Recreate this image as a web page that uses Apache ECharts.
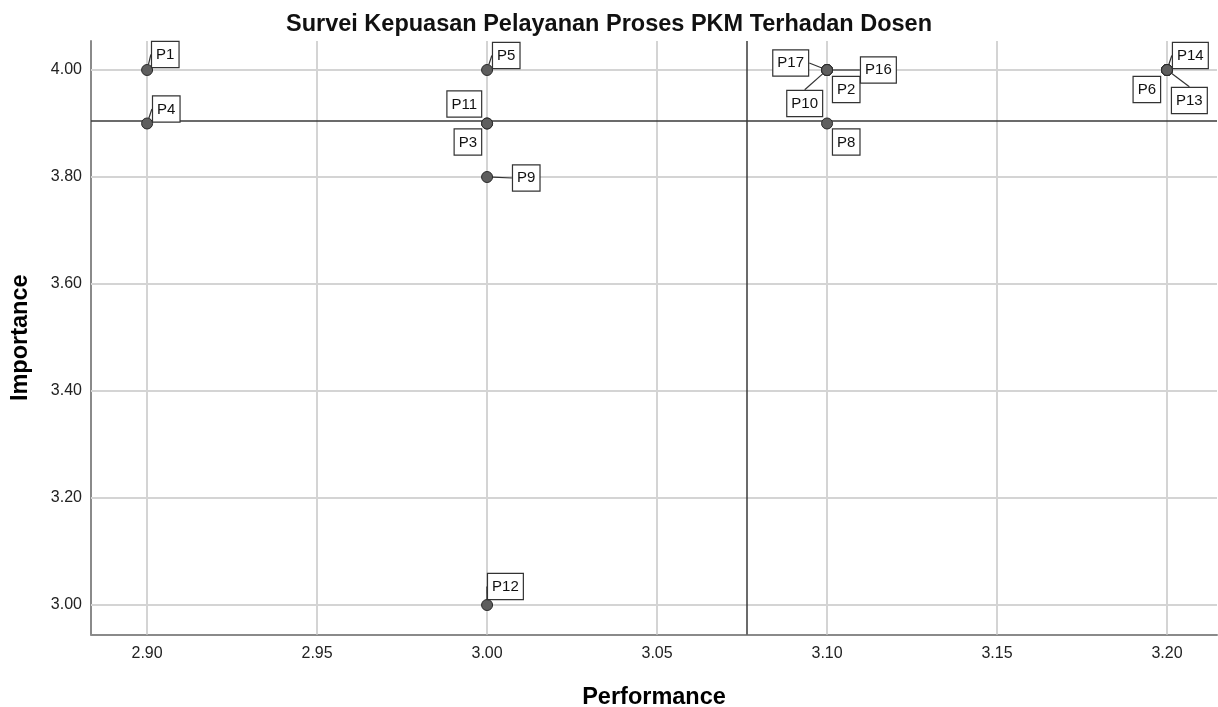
<!DOCTYPE html>
<html>
<head>
<meta charset="utf-8">
<script src="https://cdn.jsdelivr.net/npm/echarts@6/dist/echarts.min.js"></script>
<style>
html,body{margin:0;padding:0;background:#fff;}
#chart{width:1218px;height:707px;}
</style>
</head>
<body>
<div id="chart"></div>
<script>
// ---- data ----
const names = ['P1','P2','P3','P4','P5','P6','P7','P8','P9','P10','P11','P12','P13','P14','P15','P16','P17'];
const performance = [2.90,3.10,3.00,2.90,3.00,3.20,3.20,3.10,3.00,3.10,3.00,3.00,3.20,3.20,3.20,3.10,3.10];
const importance  = [4.00,4.00,3.90,3.90,4.00,4.00,4.00,3.90,3.80,4.00,3.90,3.00,4.00,4.00,4.00,4.00,4.00];
const hiddenLabels = ['P7','P15'];
const xTicks = [2.90,2.95,3.00,3.05,3.10,3.15,3.20];
const yTicks = [3.00,3.20,3.40,3.60,3.80,4.00];

// ---- label placement (style only): offset from point centre ----
const placement = {
  P1:{dx:5,dy:-3,align:'left',va:'bottom',line:true},
  P4:{dx:6,dy:-2,align:'left',va:'bottom',line:true},
  P5:{dx:6,dy:-2,align:'left',va:'bottom',line:true},
  P11:{dx:-6,dy:-7,align:'right',va:'bottom',line:false},
  P3:{dx:-6,dy:6,align:'right',va:'top',line:false},
  P9:{dx:26,dy:1,align:'left',va:'middle',line:true},
  P12:{dx:1,dy:-6,align:'left',va:'bottom',line:true},
  P17:{dx:-19,dy:-7,align:'right',va:'middle',line:true},
  P16:{dx:34,dy:0,align:'left',va:'middle',line:true},
  P2:{dx:6,dy:7,align:'left',va:'top',line:false},
  P10:{dx:-5,dy:21,align:'right',va:'top',line:true},
  P8:{dx:6,dy:6,align:'left',va:'top',line:false},
  P14:{dx:6,dy:-2,align:'left',va:'bottom',line:true},
  P6:{dx:-7,dy:7,align:'right',va:'top',line:false},
  P13:{dx:5,dy:18,align:'left',va:'top',line:true}
};

const mean = a => a.reduce((s,v)=>s+v,0)/a.length;
const meanX = mean(performance);
const meanY = mean(importance);

const FONT = '"Liberation Sans", Arial, Helvetica, sans-serif';

const points = names.map((n,i)=>({
  name:n,
  value:[performance[i], importance[i]],
  label:{show: hiddenLabels.indexOf(n) < 0},
  labelLine:{show: !!(placement[n] && placement[n].line)}
}));

const gridLines = xTicks.map(v=>({xAxis:v})).concat(yTicks.map(v=>({yAxis:v})));

const chart = echarts.init(document.getElementById('chart'), null, {renderer:'canvas'});
chart.setOption({
  animation:false,
  backgroundColor:'#fff',
  title:{
    text:'Survei Kepuasan Pelayanan Proses PKM Terhadan Dosen',
    left:'center', top:8,
    textStyle:{fontFamily:FONT,fontSize:23.5,fontWeight:'bold',color:'#111'}
  },
  grid:{left:91,right:1,top:41,bottom:72.5,outerBoundsMode:'none',containLabel:false},
  xAxis:{
    type:'value', min:2.8835, max:3.2147,
    name:'Performance', nameLocation:'middle', nameGap:51,
    nameTextStyle:{fontFamily:FONT,fontSize:23.5,fontWeight:'bold',color:'#000'},
    axisLine:{show:true,onZero:false,lineStyle:{color:'#8a8a8a',width:2}},
    axisTick:{show:false},
    splitLine:{show:false},
    axisLabel:{customValues:xTicks,formatter:v=>v.toFixed(2),fontFamily:FONT,fontSize:16,color:'#222',margin:11}
  },
  yAxis:{
    type:'value', min:2.9449, max:4.0542,
    name:'Importance', nameLocation:'middle', nameGap:58,
    nameTextStyle:{fontFamily:FONT,fontSize:23.5,fontWeight:'bold',color:'#000'},
    axisLine:{show:true,onZero:false,lineStyle:{color:'#8a8a8a',width:2}},
    axisTick:{show:false},
    splitLine:{show:false},
    axisLabel:{customValues:yTicks,formatter:v=>v.toFixed(2),fontFamily:FONT,fontSize:16,color:'#222',margin:9}
  },
  series:[
    {
      type:'scatter', data:[], z:1, silent:true,
      markLine:{
        silent:true, symbol:'none', animation:false, precision:6,
        label:{show:false},
        lineStyle:{color:'#d4d4d4',width:2,type:'solid'},
        data:gridLines
      }
    },
    {
      type:'scatter', data:[], z:2, silent:true,
      markLine:{
        silent:true, symbol:'none', animation:false, precision:6,
        label:{show:false},
        lineStyle:{color:'#3a3a3a',width:1.5,type:'solid'},
        data:[{xAxis:meanX},{yAxis:meanY}]
      }
    },
    {
      type:'scatter', z:5,
      symbol:'circle', symbolSize:11,
      itemStyle:{color:'#5e5e5e',borderColor:'#2a2a2a',borderWidth:1,opacity:1},
      data:points,
      label:{
        show:true,
        formatter:p=>p.name,
        fontFamily:FONT,fontSize:15,color:'#111',
        backgroundColor:'#fff',borderColor:'#333',borderWidth:1.2,
        padding:[4,4,3,4],lineHeight:18
      },
      labelLine:{show:true,lineStyle:{color:'#333',width:1.2}},
      labelLayout:function(params){
        const p = placement[names[params.dataIndex]];
        if(!p) return {};
        const cx = params.rect.x + params.rect.width/2;
        const cy = params.rect.y + params.rect.height/2;
        return {x:cx+p.dx, y:cy+p.dy, align:p.align, verticalAlign:p.va};
      }
    }
  ]
});
</script>
</body>
</html>
